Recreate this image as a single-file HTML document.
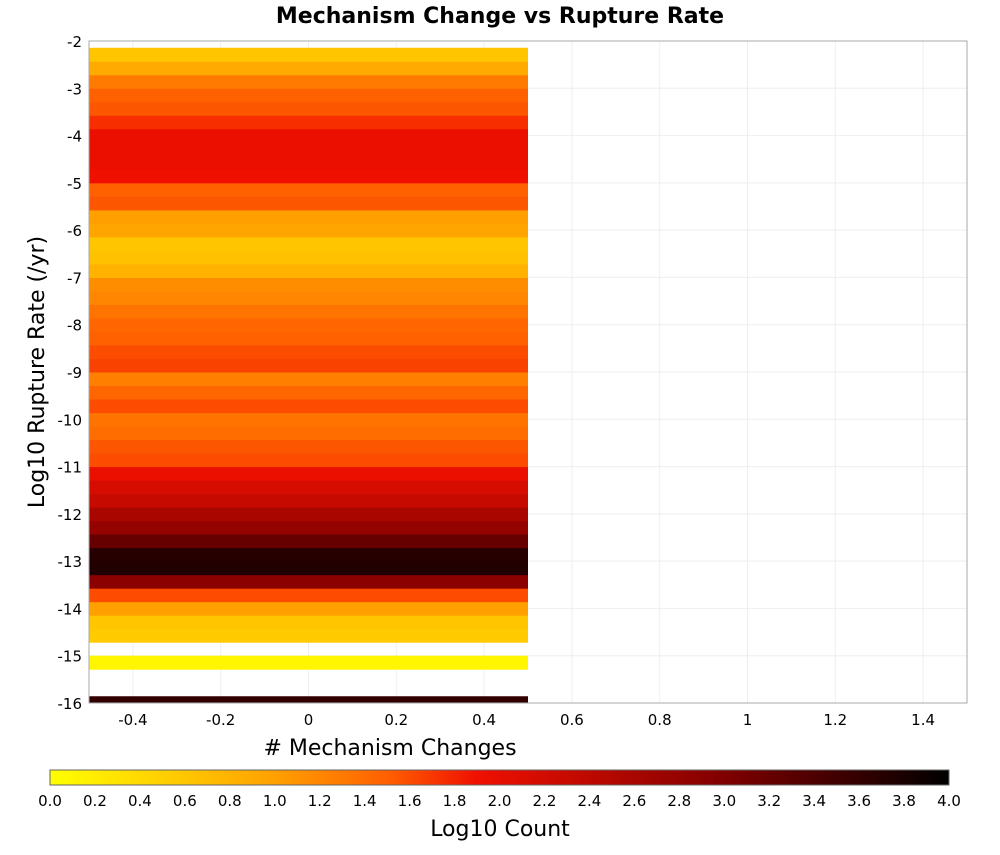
<!DOCTYPE html>
<html><head><meta charset="utf-8"><style>
body{margin:0;background:#fff;font-family:"Liberation Sans","DejaVu Sans",sans-serif}
svg text{font-family:"DejaVu Sans","Liberation Sans",sans-serif}
</style></head><body>
<svg id="c" width="1000" height="850" xmlns="http://www.w3.org/2000/svg">
<defs><linearGradient id="cb" x1="0" x2="1" y1="0" y2="0">
<stop offset="0" stop-color="#FFFF00"/><stop offset="0.25" stop-color="#FFA000"/><stop offset="0.375" stop-color="#FF6000"/><stop offset="0.475" stop-color="#F01000"/><stop offset="0.75" stop-color="#800000"/><stop offset="1" stop-color="#000000"/>
</linearGradient></defs>
<text x="500" y="23" text-anchor="middle" font-size="22" font-weight="bold">Mechanism Change vs Rupture Rate</text>
<g id="grid"></g><g id="cells"></g>
<rect x="89" y="41" width="878" height="662" fill="none" stroke="#aaa"/>
<g id="axes"></g>
<text x="390" y="755" text-anchor="middle" font-size="22"># Mechanism Changes</text>
<text transform="translate(44,372) rotate(-90)" text-anchor="middle" font-size="22">Log10 Rupture Rate (/yr)</text>
<rect x="50" y="770" width="899" height="15" fill="url(#cb)" stroke="#666"/>
<g id="cbt"></g>
<text x="500" y="836" text-anchor="middle" font-size="22">Log10 Count</text>
</svg>
<script>
const yBinCenters0 = -16, yBinStep = 14/49;
const xBin = [-0.5, 0.5];
// log10 counts from bottom bin (-16) upward; null = empty
const counts = [3.6,null,null,0.1,null,0.55,0.6,1.0,1.6,2.9,3.75,3.7,3.2,2.8,2.6,2.3,2.15,1.95,1.6,1.55,1.4,1.35,1.6,1.45,1.25,1.65,1.6,1.5,1.45,1.35,1.2,1.15,0.8,0.65,0.6,0.95,1.0,1.55,1.5,1.9,1.95,1.95,1.95,1.75,1.55,1.5,1.3,0.9,0.6];
const xTicks = [-0.4,-0.2,0,0.2,0.4,0.6,0.8,1,1.2,1.4];
const yTicks = [-2,-3,-4,-5,-6,-7,-8,-9,-10,-11,-12,-13,-14,-15,-16];
const cbTicks = [0,0.2,0.4,0.6,0.8,1,1.2,1.4,1.6,1.8,2,2.2,2.4,2.6,2.8,3,3.2,3.4,3.6,3.8,4];
const NS="http://www.w3.org/2000/svg";
const sx=v=>89+(v+0.5)*439, sy=v=>41+(-2-v)*(662/14), sc=v=>50+v/4*899;
const stops=[[0,[255,255,0]],[1,[255,160,0]],[1.5,[255,96,0]],[1.9,[240,16,0]],[3,[128,0,0]],[4,[0,0,0]]];
function col(v){for(let i=1;i<stops.length;i++){if(v<=stops[i][0]){const a=stops[i-1],b=stops[i],t=(v-a[0])/(b[0]-a[0]);return 'rgb('+a[1].map((c,j)=>Math.round(c+(b[1][j]-c)*t)).join(',')+')';}}return '#000';}
function mk(tag,at,p){const e=document.createElementNS(NS,tag);for(const k in at)e.setAttribute(k,at[k]);p.appendChild(e);return e;}
const g=document.getElementById('grid'),ce=document.getElementById('cells'),ax=document.getElementById('axes'),cb=document.getElementById('cbt');
xTicks.forEach(t=>{const l=mk('line',{x1:sx(t),x2:sx(t),y1:41,y2:703,stroke:'#eee'},g);


const tx=mk('text',{x:sx(t),y:725,'text-anchor':'middle','font-size':15},ax);tx.textContent=t;

});
yTicks.forEach(t=>{const l=mk('line',{x1:89,x2:967,y1:sy(t),y2:sy(t),stroke:'#eee'},g);


const tx=mk('text',{x:82,y:sy(t)+6,'text-anchor':'end','font-size':15},ax);tx.textContent=t;

});
counts.forEach((v,k)=>{if(v==null)return;const c=yBinCenters0+k*yBinStep;
let y1=sy(c+yBinStep/2),y2=Math.min(sy(c-yBinStep/2),703);
const r=mk('rect',{x:sx(xBin[0]),y:y1,width:sx(xBin[1])-sx(xBin[0]),height:y2-y1+0.5,fill:col(v)},ce);

});
cbTicks.forEach(t=>{const tx=mk('text',{x:sc(t),y:806,'text-anchor':'middle','font-size':15},cb);tx.textContent=t.toFixed(1);

});
</script>
</body></html>
